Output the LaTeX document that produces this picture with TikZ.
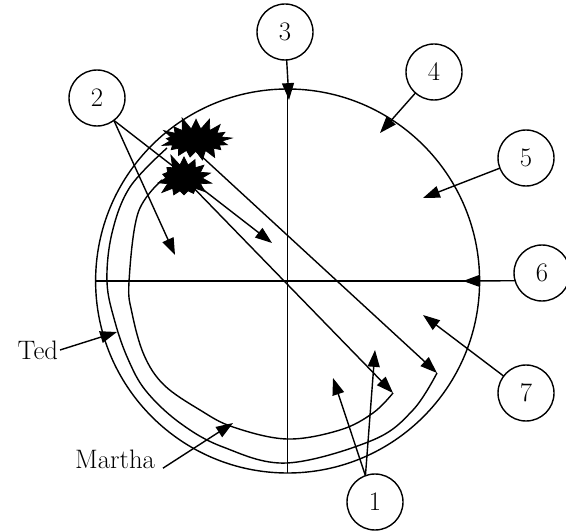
\documentclass[tikz,border=0pt]{standalone}
\usetikzlibrary{arrows.meta,shapes.symbols}

\definecolor{plateink}{RGB}{0,0,0}
\pgfdeclarelayer{background}
\pgfsetlayers{background,main}

\begin{document}
\begin{tikzpicture}[
  x=1cm,
  y=1cm,
  every node/.style={inner sep=0pt, outer sep=0pt},
  label/.style={font=\fontsize{19}{22}\selectfont, text=plateink},
  numcirc/.style={draw=plateink, circle, minimum size=1.4cm, line width=1pt, font=\fontsize{19}{22}\selectfont},
  plate/.style={draw=plateink, circle, minimum size=9.6cm, line width=1pt},
  burst/.style={starburst, draw=plateink, fill=plateink, line width=0.5pt},
  trail/.style={draw=plateink, line width=1pt},
  flow/.style={draw=plateink, line width=1pt, -{Triangle[length=12pt, width=8.5pt]}}
]

  \path[use as bounding box] (0,0) rectangle (14.15,13.275);

  % The disk and its two axes.
  \node[plate] (disk) at (7.19,6.25) {};
  \draw[trail] (disk.north) -- (disk.south);
  \draw[trail] (disk.west) -- (disk.east);

  % Numbered callouts.
  \node[numcirc] (n1) at (9.375,0.725) {1};
  \node[numcirc] (n2) at (2.425,10.825) {2};
  \node[numcirc] (n3) at (7.125,12.475) {3};
  \node[numcirc] (n4) at (10.85,11.475) {4};
  \node[numcirc] (n5) at (13.15,9.325) {5};
  \node[numcirc] (n6) at (13.55,6.45) {6};
  \node[numcirc] (n7) at (13.15,3.45) {7};

  % Where the arrows land.
  \coordinate (t1a) at (8.325,3.825);
  \coordinate (t1b) at (9.375,4.525);
  \coordinate (t2a) at (4.375,6.9);
  \coordinate (t2b) at (6.8,7.2);
  \coordinate (t3) at (7.225,10.775);
  \coordinate (t4) at (9.5,9.95);
  \coordinate (t5) at (10.575,8.325);
  \coordinate (t6) at (11.575,6.25);
  \coordinate (t7) at (10.575,5.4);
  \coordinate (tedend) at (10.925,3.95);
  \coordinate (marthaend) at (9.825,3.45);

  % The two paths round the disk.
  \draw[trail] plot[smooth, tension=0.6] coordinates {
    (4.175,9.575) (3.25,8.6) (2.8,7.45) (2.675,6.225) (2.875,5.225)
    (3.2,4.3) (3.65,3.5) (4.5,2.7) (5.575,2.1) (7.175,1.7)
    (9.325,2.275) (10.325,3.025) (10.925,3.95)};
  \draw[trail] plot[smooth, tension=0.6] coordinates {
    (4.05,8.775) (3.45,7.95) (3.225,6.225) (3.3,5.45) (3.6,4.4)
    (4.1,3.65) (5.0,3.025) (5.825,2.6) (7.175,2.3) (8.5,2.525)
    (9.325,2.95) (9.825,3.45)};

  % The two bursts and the straight runs out of them.
  \node[burst, minimum width=1.95cm, minimum height=1.2cm, starburst points=17, starburst point height=0.32cm, random starburst=11] (burstA) at (4.9,9.775) {};
  \node[burst, minimum width=1.55cm, minimum height=1.3cm, starburst points=14, starburst point height=0.32cm, random starburst=5] (burstB) at (4.6,8.825) {};
  \begin{pgfonlayer}{background}
    \draw[flow] (burstA.south) -- (tedend);
    \draw[flow] (burstB.center) -- (marthaend);
  \end{pgfonlayer}

  % Callout arrows.
  \draw[flow] (n1.110) -- (t1a);
  \draw[flow] (n1.110) -- (t1b);
  \draw[flow] (n2.-53) -- (t2a);
  \draw[flow] (n2.-53) -- (t2b);
  \draw[flow] (n3) -- (t3);
  \draw[flow] (n4) -- (t4);
  \draw[flow] (n5) -- (t5);
  \draw[flow] (n6.196) -- (t6);
  \draw[flow] (n7) -- (t7);

  % Names of the two paths.
  \node[label, anchor=east] (ted) at (1.45,4.525) {Ted};
  \node[label, anchor=east] (martha) at (3.875,1.8) {Martha};
  \draw[flow] ([xshift=0.05cm]ted.east) -- (2.925,4.975);
  \draw[flow] ([xshift=0.2cm]martha.base east) -- (5.825,2.7);

\end{tikzpicture}
\end{document}
